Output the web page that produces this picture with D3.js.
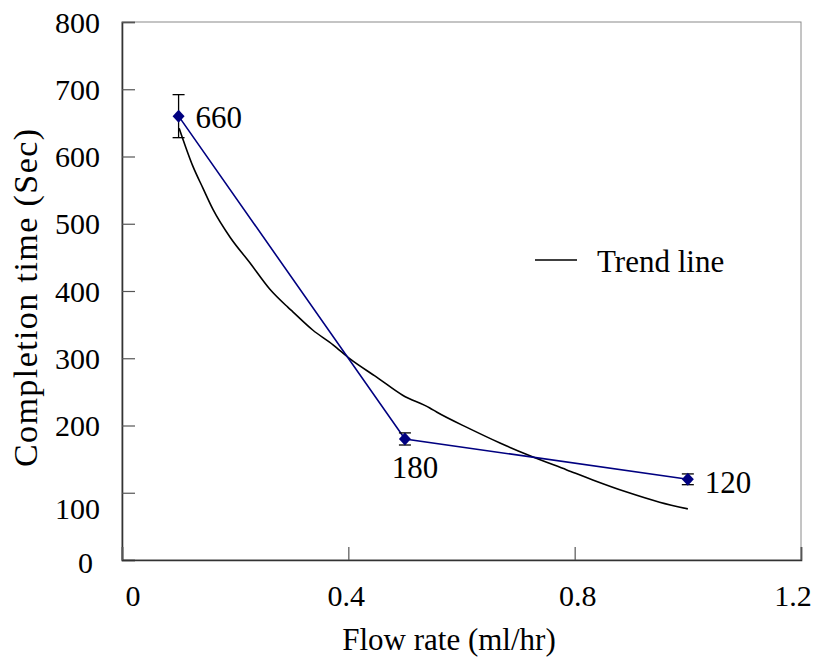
<!DOCTYPE html>
<html>
<head>
<meta charset="utf-8">
<script src="https://cdn.jsdelivr.net/npm/d3@7"></script>
<style>
  html, body { margin: 0; padding: 0; background: #fff; }
  svg { display: block; font-family: "Liberation Serif", "Times New Roman", serif; }
</style>
</head>
<body>
<svg id="chart" width="814" height="660"></svg>
<script>
// Measured completion times at each flow rate
const flowRates = [0.1, 0.5, 1.0];
const completionTimes = [660, 180, 120];
const errors = [32, 9, 8];

// Fitted trend curve (flow rate, completion time)
const trendX = [0.101, 0.125, 0.143, 0.161, 0.191, 0.226, 0.261, 0.293, 0.302, 0.337, 0.373, 0.403,
                0.450, 0.496, 0.544, 0.556, 0.615, 0.668, 0.721, 0.786, 0.832, 0.892, 0.950, 1.000];
const trendY = [642, 586, 553, 521, 480, 442, 403, 376, 369, 342, 320, 299,
                272, 245, 226, 220, 195, 174, 155, 134, 119, 101, 86, 76];

const xTicks = [0, 0.4, 0.8, 1.2];
const xTickLabels = ["0", "0.4", "0.8", "1.2"];
const yTicks = [0, 100, 200, 300, 400, 500, 600, 700, 800];

const svg = d3.select("#chart");
const plotLeft = 122, plotRight = 801, plotTop = 22, plotBottom = 560;
const fontSize = 30;

const x = d3.scaleLinear().domain([0, 1.2]).range([plotLeft, plotRight]);
const y = d3.scaleLinear().domain([0, 800]).range([plotBottom, plotTop]);

// Frame (top and right edges)
svg.append("rect")
  .attr("x", plotLeft).attr("y", plotTop)
  .attr("width", plotRight - plotLeft).attr("height", plotBottom - plotTop)
  .attr("fill", "none").attr("stroke", "#8a8a8a").attr("stroke-width", 1);

// Y axis with inward ticks
const yAxis = svg.append("g")
  .attr("transform", `translate(${plotLeft},0)`)
  .call(d3.axisRight(y).tickValues(yTicks).tickSize(13).tickFormat(""));
yAxis.select(".domain").attr("stroke", "#333").attr("stroke-width", 1.6);
yAxis.selectAll(".tick line").attr("stroke", "#555").attr("stroke-width", 1.2);

// Y tick labels
const yLabelShift = { 0: [-7, 2], 100: [0, 16] };
svg.append("g").selectAll("text")
  .data(yTicks)
  .join("text")
  .attr("x", d => 100 + (yLabelShift[d] ? yLabelShift[d][0] : 0))
  .attr("y", d => y(d) + (yLabelShift[d] ? yLabelShift[d][1] : 0))
  .attr("dy", "0.35em")
  .attr("text-anchor", "end")
  .attr("font-size", fontSize)
  .attr("fill", "#000")
  .text(d => d);

// X axis with inward ticks
const xAxis = svg.append("g")
  .attr("transform", `translate(0,${plotBottom})`)
  .call(d3.axisTop(x).tickValues(xTicks).tickSize(13).tickFormat(""));
xAxis.select(".domain").attr("stroke", "#333").attr("stroke-width", 1.6);
xAxis.selectAll(".tick line").attr("stroke", "#555").attr("stroke-width", 1.2);

// X tick labels
const xLabelShift = [11, -2, 3, -8];
svg.append("g").selectAll("text")
  .data(xTicks)
  .join("text")
  .attr("x", (d, i) => x(d) + xLabelShift[i])
  .attr("y", 595)
  .attr("dy", "0.35em")
  .attr("text-anchor", "middle")
  .attr("font-size", fontSize)
  .attr("fill", "#000")
  .text((d, i) => xTickLabels[i]);

// Axis titles
svg.append("text")
  .attr("x", 449).attr("y", 639)
  .attr("dy", "0.35em")
  .attr("text-anchor", "middle")
  .attr("font-size", 31)
  .text("Flow rate (ml/hr)");

svg.append("text")
  .attr("transform", "translate(25,298) rotate(-90)")
  .attr("dy", "0.35em")
  .attr("text-anchor", "middle")
  .attr("font-size", 34)
  .attr("textLength", 338)
  .attr("lengthAdjust", "spacing")
  .text("Completion time (Sec)");

// Trend curve
const trendPts = trendX.map((v, i) => [v, trendY[i]]);
svg.append("path")
  .datum(trendPts)
  .attr("fill", "none")
  .attr("stroke", "#000")
  .attr("stroke-width", 1.6)
  .attr("d", d3.line().curve(d3.curveMonotoneX).x(d => x(d[0])).y(d => y(d[1])));

// Measured series
const pts = flowRates.map((v, i) => ({ x: v, y: completionTimes[i], e: errors[i] }));

svg.append("path")
  .datum(pts)
  .attr("fill", "none")
  .attr("stroke", "#000080")
  .attr("stroke-width", 1.6)
  .attr("d", d3.line().x(d => x(d.x)).y(d => y(d.y)));

// Error bars
const eb = svg.append("g").attr("stroke", "#000").attr("stroke-width", 1.3);
pts.forEach(d => {
  const cx = x(d.x);
  eb.append("line").attr("x1", cx).attr("x2", cx).attr("y1", y(d.y + d.e)).attr("y2", y(d.y - d.e));
  eb.append("line").attr("x1", cx - 6).attr("x2", cx + 6).attr("y1", y(d.y + d.e)).attr("y2", y(d.y + d.e));
  eb.append("line").attr("x1", cx - 6).attr("x2", cx + 6).attr("y1", y(d.y - d.e)).attr("y2", y(d.y - d.e));
});

// Diamond markers
svg.append("g").selectAll("path")
  .data(pts)
  .join("path")
  .attr("transform", d => `translate(${x(d.x)},${y(d.y)})`)
  .attr("d", "M0,-6.5L6,0L0,6.5L-6,0Z")
  .attr("fill", "#000080");

// Value labels
const labelOffsets = [[17, 1], [10, 28], [17, 3]];
const labelAnchor = ["start", "middle", "start"];
svg.append("g").selectAll("text")
  .data(pts)
  .join("text")
  .attr("x", (d, i) => x(d.x) + labelOffsets[i][0])
  .attr("y", (d, i) => y(d.y) + labelOffsets[i][1])
  .attr("dy", "0.35em")
  .attr("text-anchor", (d, i) => labelAnchor[i])
  .attr("font-size", 31)
  .text(d => d.y);

// Legend
svg.append("line")
  .attr("x1", 535).attr("x2", 577).attr("y1", 260).attr("y2", 260)
  .attr("stroke", "#000").attr("stroke-width", 1.6);
svg.append("text")
  .attr("x", 597).attr("y", 261)
  .attr("dy", "0.35em")
  .attr("font-size", 31)
  .text("Trend line");
</script>
</body>
</html>
